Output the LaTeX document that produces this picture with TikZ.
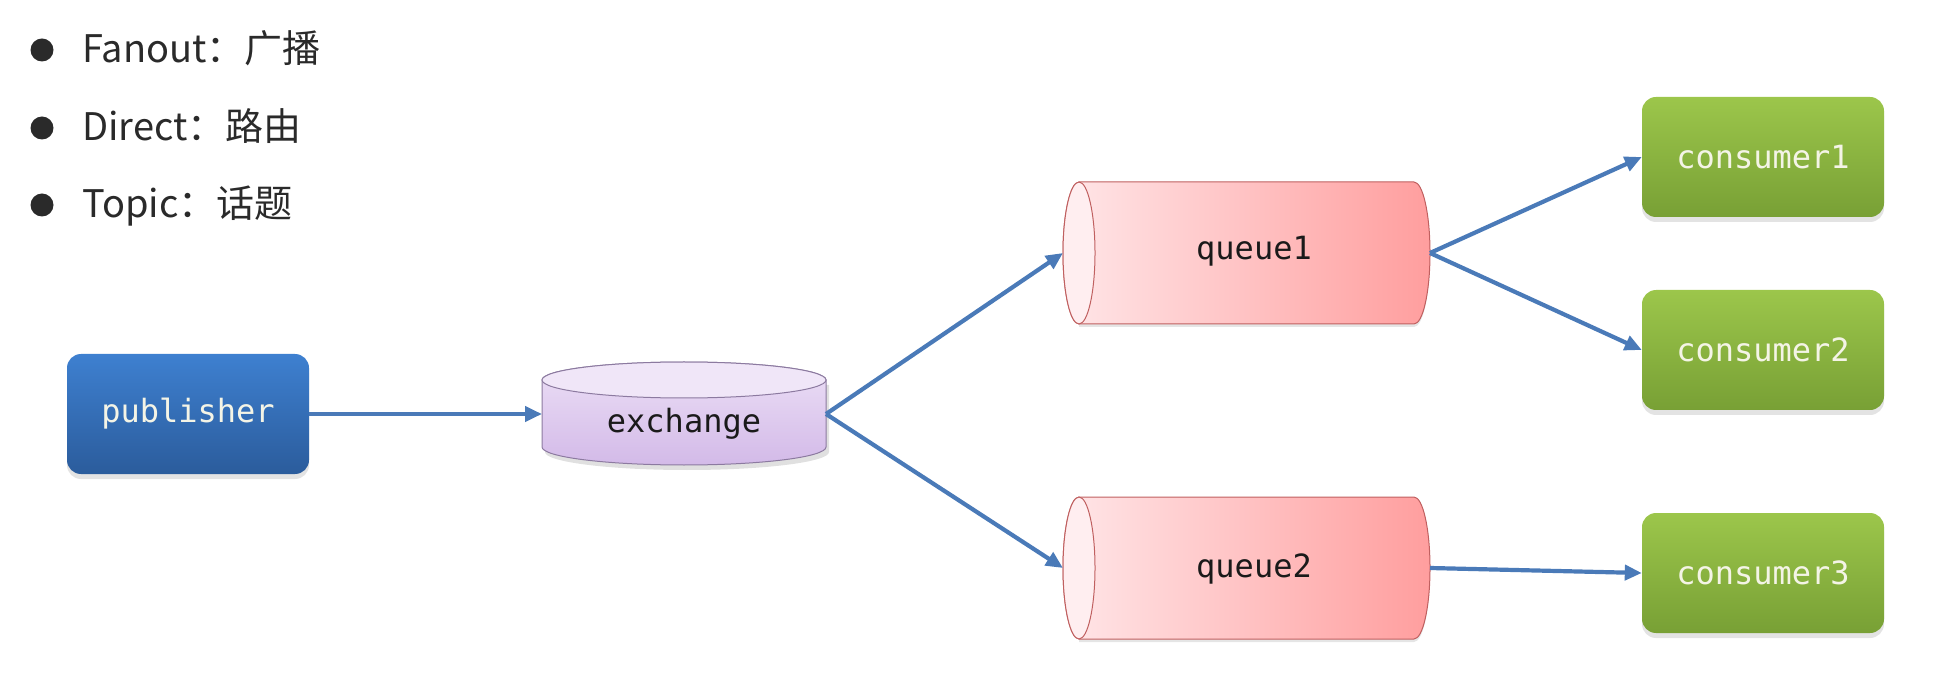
\documentclass[tikz,border=0pt]{standalone}
\usepackage{fontspec}
\setmonofont{DejaVu Sans Mono}
\newfontfamily\cjk{Noto Sans CJK SC}
\usetikzlibrary{arrows.meta,shadows}
\definecolor{pubTop}{HTML}{3E80D0}
\definecolor{pubBot}{HTML}{2B5C9C}
\definecolor{conTop}{HTML}{9CC64B}
\definecolor{conBot}{HTML}{78A035}
\definecolor{qL}{HTML}{FFE6E8}
\definecolor{qR}{HTML}{FF9E9E}
\definecolor{qCap}{HTML}{FFEEF0}
\definecolor{qBorder}{HTML}{C06060}
\definecolor{exTop}{HTML}{ECDFF6}
\definecolor{exBot}{HTML}{D3BAE8}
\definecolor{exCap}{HTML}{F0E6F8}
\definecolor{exBorder}{HTML}{8C7AA0}
\definecolor{arrowc}{HTML}{4A7AB8}
\definecolor{lighttext}{HTML}{F4F4E6}
\definecolor{darktext}{HTML}{1A1A1A}
\definecolor{bullettext}{HTML}{2A2A2A}
\begin{document}
\begin{tikzpicture}[x=1pt,y=1pt,
  monofont/.style={font=\ttfamily\fontsize{32}{36}\selectfont},
  box/.style={rounded corners=14pt, minimum width=242pt, minimum height=120pt,
    monofont, text=lighttext,
    drop shadow={shadow xshift=0pt, shadow yshift=-5pt, opacity=0.22}},
  pubbox/.style={box, top color=pubTop, bottom color=pubBot},
  conbox/.style={box, top color=conTop, bottom color=conBot},
  anchorbox/.style={inner sep=0pt, outer sep=0pt},
  cyltext/.style={monofont, text=darktext},
  conn/.style={draw=arrowc, line width=4.2pt, -{Triangle[length=17pt,width=15pt]}},
  bullettxt/.style={font=\cjk\fontsize{38}{42}\selectfont, text=bullettext, anchor=base west, inner sep=0pt},
  bulletdot/.style={fill=bullettext, draw=none}
]
\useasboundingbox (0,0) rectangle (1940,686);

% bullets
\fill[bulletdot] (42,636) circle (11.5);
\fill[bulletdot] (42,558) circle (11.5);
\fill[bulletdot] (42,481) circle (11.5);
\node[bullettxt] (b1) at (82,623) {Fanout：广播};
\node[bullettxt] (b2) at (82,545) {Direct：路由};
\node[bullettxt] (b3) at (82,468) {Topic：话题};

% publisher
\node[pubbox] (pub) at (188,272) {publisher};

% exchange cylinder
\fill[black, opacity=0.12] (545,301) -- (545,234) arc[start angle=180,end angle=360,x radius=142,y radius=18] -- (829,301) -- cycle;
\path[top color=exTop, bottom color=exBot, draw=exBorder, line width=1pt]
  (542,306) -- (542,239) arc[start angle=180,end angle=360,x radius=142,y radius=18]
  -- (826,306) arc[start angle=0,end angle=180,x radius=142,y radius=18] -- cycle;
\path[fill=exCap, draw=exBorder, line width=1pt] (684,306) ellipse[x radius=142, y radius=18];
\node[anchorbox, minimum width=284pt, minimum height=103pt] (ex) at (684,272) {};
\node[cyltext] (exlabel) at (684,262) {exchange};

% queue1
\fill[black, opacity=0.10] (1079,359) -- (1414,359) arc[start angle=-90,end angle=90,x radius=16,y radius=71] -- (1079,501) -- cycle;
\path[left color=qL, right color=qR, draw=qBorder, line width=1pt]
  (1079,504) -- (1414,504) arc[start angle=90,end angle=-90,x radius=16,y radius=71]
  -- (1079,362) arc[start angle=270,end angle=90,x radius=16,y radius=71] -- cycle;
\path[fill=qCap, draw=qBorder, line width=1pt] (1079,433) ellipse[x radius=16, y radius=71];
\node[anchorbox, minimum width=367pt, minimum height=142pt] (q1) at (1246.5,433) {};
\node[cyltext] (q1label) at (1254,435) {queue1};

% queue2
\fill[black, opacity=0.10] (1079,44) -- (1414,44) arc[start angle=-90,end angle=90,x radius=16,y radius=71] -- (1079,186) -- cycle;
\path[left color=qL, right color=qR, draw=qBorder, line width=1pt]
  (1079,189) -- (1414,189) arc[start angle=90,end angle=-90,x radius=16,y radius=71]
  -- (1079,47) arc[start angle=270,end angle=90,x radius=16,y radius=71] -- cycle;
\path[fill=qCap, draw=qBorder, line width=1pt] (1079,118) ellipse[x radius=16, y radius=71];
\node[anchorbox, minimum width=367pt, minimum height=142pt] (q2) at (1246.5,118) {};
\node[cyltext] (q2label) at (1254,117) {queue2};

% consumers
\node[conbox] (c1) at (1763,529) {consumer1};
\node[conbox] (c2) at (1763,336) {consumer2};
\node[conbox] (c3) at (1763,113) {consumer3};

% connectors
\draw[conn] (pub.east) -- (ex.west);
\draw[conn] (ex.east) -- (q1.west);
\draw[conn] (ex.east) -- (q2.west);
\draw[conn] (q1.east) -- (c1.west);
\draw[conn] (q1.east) -- (c2.west);
\draw[conn] (q2.east) -- (c3.west);
\end{tikzpicture}
\end{document}
